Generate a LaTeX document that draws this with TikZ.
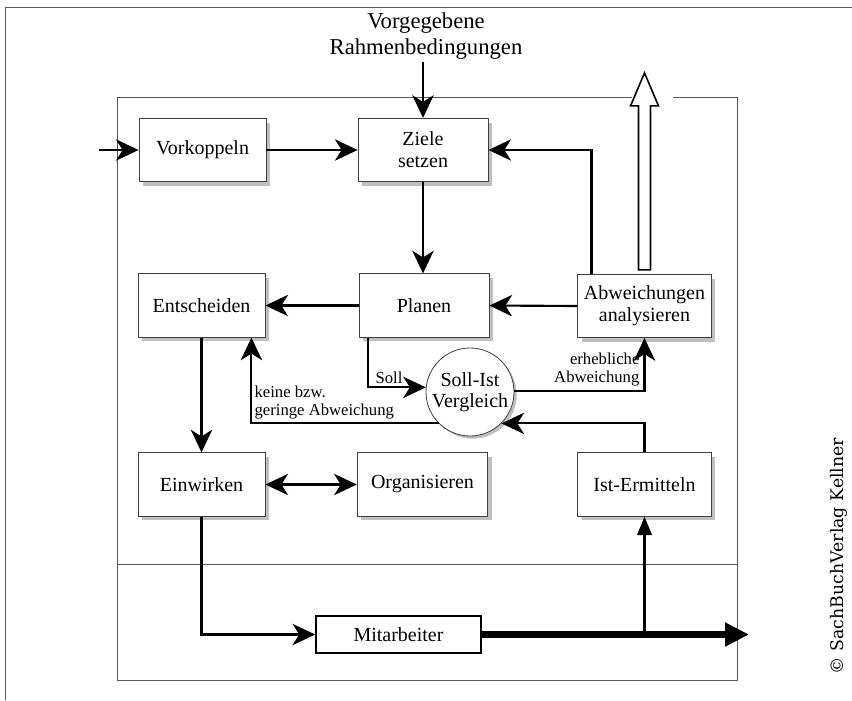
\documentclass[tikz,border=0pt]{standalone}
\usepackage{fontspec}
\setmainfont{Liberation Serif}
\newfontfamily\copyfont{DejaVu Serif}
\usetikzlibrary{arrows.meta,shadows,shapes.geometric,calc}
\begin{document}
\begin{tikzpicture}[x=0.75pt,y=-0.75pt,
  box/.style={draw=black!75, line width=0.6pt, fill=white, minimum height=47.5pt, inner sep=1pt, align=center,
    font=\fontsize{15}{16.5}\selectfont,
    drop shadow={shadow xshift=3.2pt, shadow yshift=-3.2pt, fill=black!25, opacity=1}},
  lbl/.style={font=\fontsize{12.5}{14}\selectfont, inner sep=1pt},
  tip/.tip={Stealth[length=17pt,width=16pt,inset=5pt]},
  arr/.style={line width=1.6pt, -tip},
  darr/.style={line width=1.6pt, tip-tip},
  frame/.style={draw=black!65, line width=0.6pt}
]
\useasboundingbox (0,0) rectangle (852,700);
% outer and inner frames
\draw[frame] (5,700) -- (5,7) -- (852,7);
\draw[frame] (632,97) -- (117,97) -- (117,680) -- (737,680) -- (737,97) -- (673,97);
\draw[frame] (117,564) -- (737,564);

% boxes
\node[box, minimum width=95.25pt] (vork) at (202.5,150) {Vorkoppeln};
\node[box, minimum width=97.5pt] (ziele) at (423,150) {Ziele\\setzen};
\node[box, minimum width=95.25pt] (ent) at (201.5,305.5) {Entscheiden};
\node[box, minimum width=97.5pt] (plan) at (424,305.5) {Planen};
\node[box, minimum width=100pt] (abw) at (644.5,306) {Abweichungen\\analysieren};
\node[box, minimum width=95.25pt] (einw) at (201.5,484.5) {Einwirken};
\node[box, minimum width=98pt] (org) at (422.5,484.5) {Organisieren};
\node[box, minimum width=100pt] (ist) at (644.5,484.5) {Ist-Ermitteln};
\node[draw, line width=1.2pt, fill=white, minimum width=123.75pt, minimum height=27.75pt, inner sep=1pt,
  font=\fontsize{15}{16.5}\selectfont] (mit) at (398.5,634.5) {Mitarbeiter};
\node[circle, draw=black!75, line width=0.6pt, fill=white, minimum size=66pt, inner sep=0pt,
  drop shadow={shadow xshift=2pt, shadow yshift=-2pt, fill=black!25, opacity=1},
  label={[font=\fontsize{15}{16}\selectfont, align=center]center:Soll-Ist\\Vergleich}] (sollist) at (470,392) {};

% title
\node[align=center, font=\fontsize{17}{19}\selectfont] (title) at (426,36) {Vorgegebene\\Rahmenbedingungen};
\coordinate (rtop) at (423,62);
\draw[arr] (rtop) -- (ziele.north);

% hollow arrow
\draw[line width=1.2pt, fill=white, line join=miter] ($(abw.north)+(-6,-4)$) -- ++(0,-164) -- ++(-8,0) -- ++(14,-33) -- ++(14,33) -- ++(-8,0) -- ++(0,164) -- cycle;

% connectors
\coordinate (entry) at (99,150);
\draw[arr] (entry) -- (vork.west);
\draw[arr] (vork.east) -- (ziele.west);
\draw[arr] (ziele.south) -- (ziele.south |- plan.north);
\draw[arr] ($(abw.north west)+(14,0)$) |- (ziele.east);
\draw[arr] (abw.west) -- (plan.east);
\draw[arr] (plan.west) -- (ent.east);
\draw[arr] (ent.south) -- (ent.south |- einw.north);
\draw[darr] (einw.east) -- (org.west);
\draw[arr] ($(plan.south west)+(9,0)$) |- (sollist.174);
\draw[arr] (sollist.1) -| (abw.south);
\draw[arr] (sollist.225) -| ($(ent.south east)+(-14,0)$);
\draw[arr] (ist.north) |- (sollist.315);
\draw[arr] (einw.south) |- (mit.west);
\coordinate (out) at (749,634.5);
\draw[line width=5pt, -{Triangle[length=18pt,width=17pt]}] (mit.east) -- (out);
\coordinate (branch) at (ist.south |- mit.east);
\draw[line width=1.6pt, -{Triangle[length=14pt,width=11pt]}] (branch) -- (ist.south);

% labels
\node[lbl] (soll) at (389,378) {Soll};
\node[lbl, anchor=south east, align=right] (erh) at (641,388) {erhebliche\\Abweichung};
\node[lbl, anchor=south west, align=left] (keine) at (253,421) {keine bzw.\\geringe Abweichung};
\node[rotate=90, font=\copyfont\fontsize{13}{14}\selectfont] (copy) at (839,556) {© SachBuchVerlag Kellner};
\end{tikzpicture}
\end{document}
